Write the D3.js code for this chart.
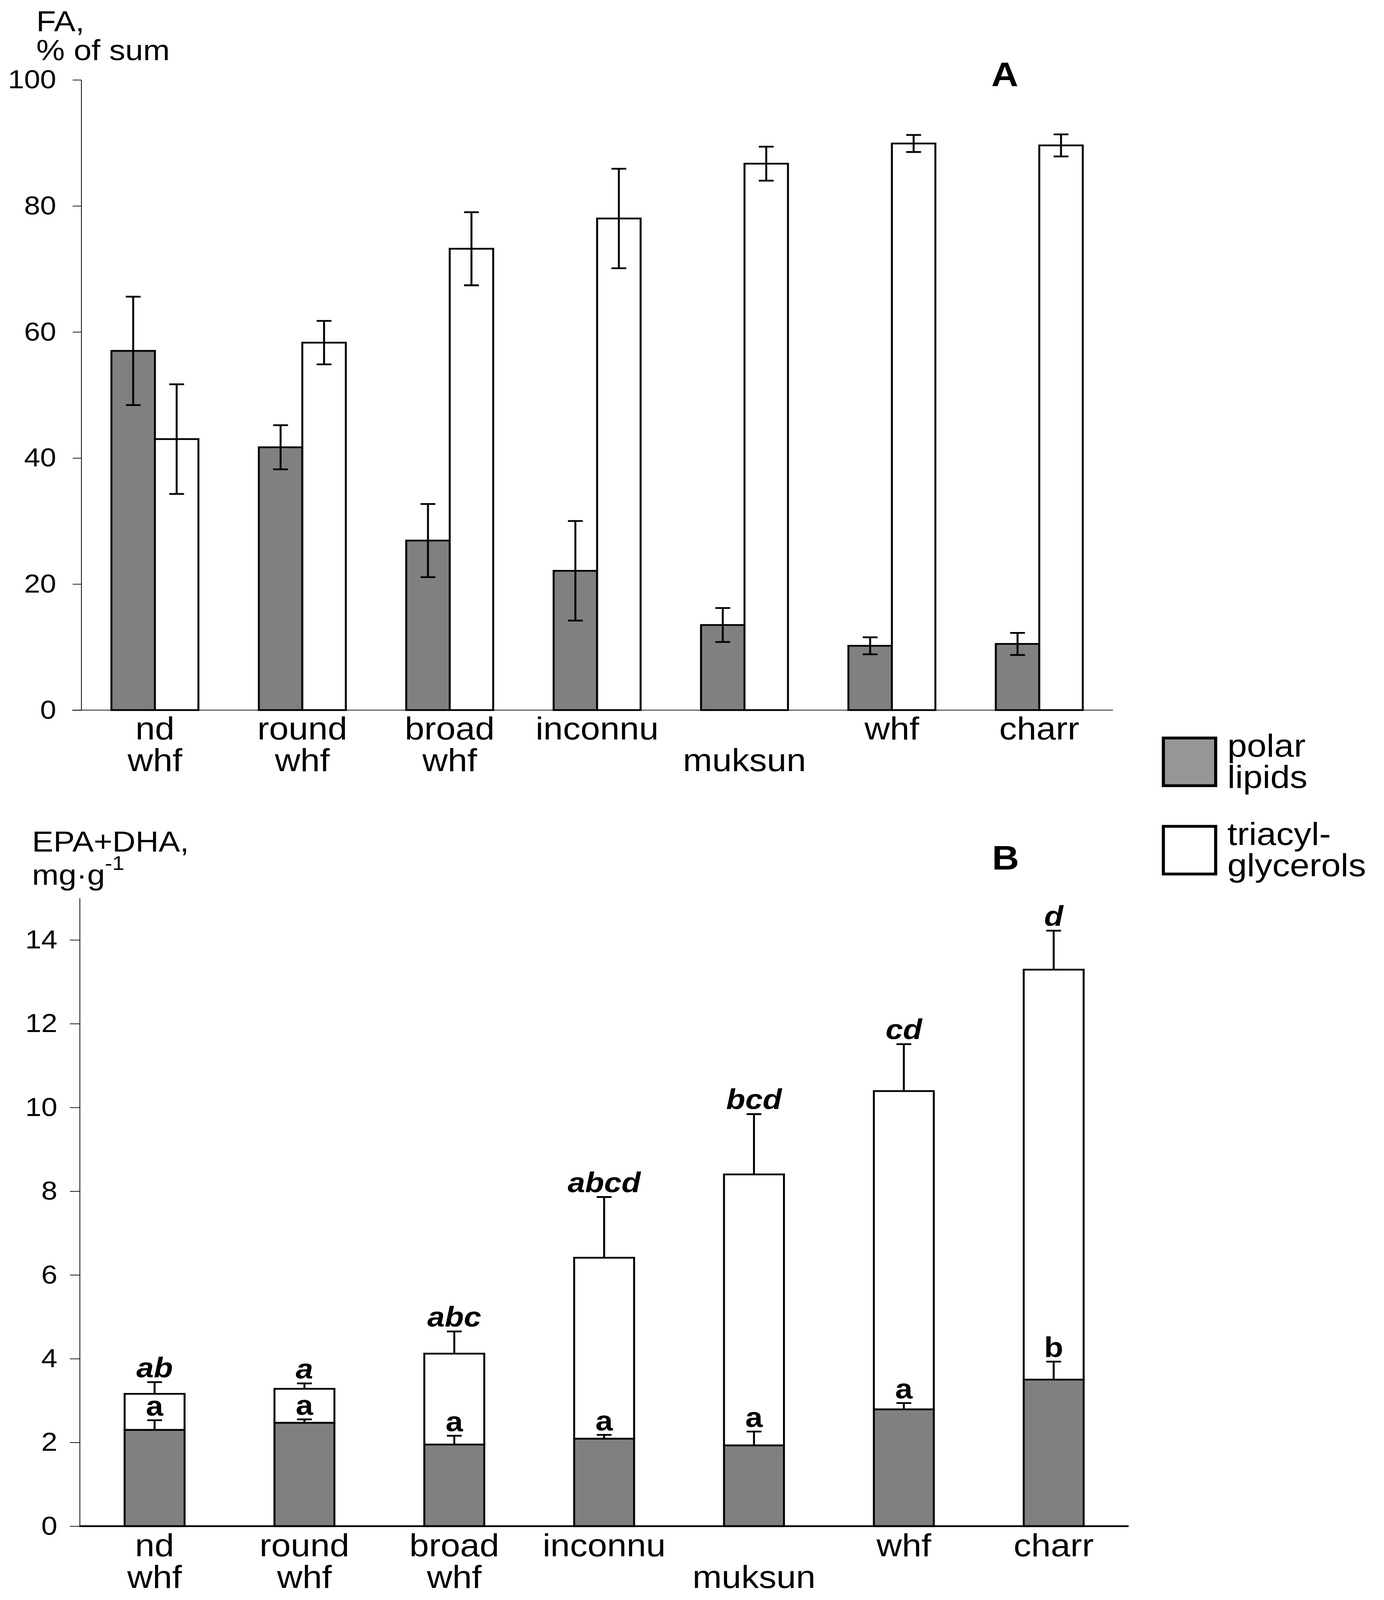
<!DOCTYPE html>
<html>
<head>
<meta charset="utf-8">
<script src="https://cdn.jsdelivr.net/npm/d3@7"></script>
<style>
  html, body { margin: 0; padding: 0; background: #fff; overflow: hidden; }
  svg { display: block; }
  text { font-family: "Liberation Sans", Arial, sans-serif; fill: #000; }
</style>
</head>
<body>
<div class="chart"></div>
<script>
// categories (two label lines each)
var categories = ["nd whf", "round whf", "broad whf", "inconnu", "muksun", "whf", "charr"];
var labelLines = [["nd", "whf"], ["round", "whf"], ["broad", "whf"], ["inconnu", ""], ["", "muksun"], ["whf", ""], ["charr", ""]];

// panel A: FA, % of sum
var polarPct    = [57.0, 41.7, 26.9, 22.1, 13.5, 10.2, 10.5];
var polarPctErr = [8.6, 3.5, 5.8, 7.9, 2.7, 1.35, 1.75];
var tagPct      = [43.0, 58.3, 73.2, 78.0, 86.7, 89.9, 89.6];
var tagPctErr   = [8.7, 3.45, 5.8, 7.9, 2.7, 1.35, 1.75];
var ticksA = [0, 20, 40, 60, 80, 100];

// panel B: EPA+DHA, mg/g (stacked)
var polarMg    = [2.30, 2.47, 1.95, 2.09, 1.93, 2.79, 3.50];
var polarMgErr = [0.23, 0.08, 0.21, 0.09, 0.33, 0.15, 0.43];
var tagMg      = [0.86, 0.81, 2.17, 4.32, 6.47, 7.60, 9.79];
var totalMgErr = [0.28, 0.13, 0.53, 1.45, 1.44, 1.12, 0.93];
var ticksB = [0, 2, 4, 6, 8, 10, 12, 14];
var lettersTotal = ["ab", "a", "abc", "abcd", "bcd", "cd", "d"];
var lettersPolar = ["a", "a", "a", "a", "a", "a", "b"];

var legendItems = [["polar", "lipids"], ["triacyl-", "glycerols"]];

// the window is only 4096 px high, so the 3544x4529 drawing is fitted into it
var svg = d3.select(".chart").append("svg")
            .attr("width", window.innerWidth || 3544)
            .attr("height", window.innerHeight || 4096)
            .attr("viewBox", "0 0 3544 4529")
            .attr("preserveAspectRatio", "none");

var dark = "#808080";

function errBar(g, x, y1, y2, both) {
  g.append("line").attr("x1", x).attr("x2", x).attr("y1", y1).attr("y2", y2)
   .attr("stroke", "#000").attr("stroke-width", 5);
  g.append("line").attr("x1", x - 19).attr("x2", x + 19).attr("y1", y2).attr("y2", y2)
   .attr("stroke", "#000").attr("stroke-width", 5);
  if (both) {
    g.append("line").attr("x1", x - 19).attr("x2", x + 19).attr("y1", y1).attr("y2", y1)
     .attr("stroke", "#000").attr("stroke-width", 5);
  }
}

// one text element per category, lines as tspans
function catLabels(x, base) {
  var g = svg.append("g");
  labelLines.forEach(function(lines, i){
    var cx = x(categories[i]) + x.bandwidth() / 2;
    var t = g.append("text").attr("text-anchor", "middle").attr("font-size", 90);
    lines.forEach(function(s, k){
      if (!s) return;
      t.append("tspan").attr("x", cx).attr("y", base + k * 90).text(s);
    });
  });
}

// ---------- panel A ----------
var xA = d3.scaleBand().domain(categories).range([208, 2850]);
var yA = d3.scaleLinear().domain([0, 100]).range([2010, 226]);
var bwA = xA.bandwidth() * 0.295;

svg.append("g")
   .attr("transform", "translate(208,0)")
   .call(d3.axisLeft(yA).tickValues(ticksA).tickSize(22).tickSizeOuter(0).tickPadding(42))
   .call(function(g){
     g.selectAll("path, line").attr("stroke", "#000").attr("stroke-width", 2);
     g.selectAll("text").attr("font-size", 74).attr("font-family", "Liberation Sans, Arial");
   });

var barsA = svg.append("g");
barsA.selectAll(".polar").data(polarPct).enter().append("rect")
     .attr("x", function(d, i){ return xA(categories[i]) + xA.bandwidth() / 2 - bwA; })
     .attr("y", function(d){ return yA(d); })
     .attr("width", bwA)
     .attr("height", function(d){ return yA(0) - yA(d); })
     .attr("fill", dark).attr("stroke", "#000").attr("stroke-width", 5);
barsA.selectAll(".tag").data(tagPct).enter().append("rect")
     .attr("x", function(d, i){ return xA(categories[i]) + xA.bandwidth() / 2; })
     .attr("y", function(d){ return yA(d); })
     .attr("width", bwA)
     .attr("height", function(d){ return yA(0) - yA(d); })
     .attr("fill", "#fff").attr("stroke", "#000").attr("stroke-width", 5);

svg.append("line").attr("x1", 185).attr("x2", 2850).attr("y1", yA(0)).attr("y2", yA(0))
   .attr("stroke", "#000").attr("stroke-width", 2);

polarPct.forEach(function(d, i){
  var cx = xA(categories[i]) + xA.bandwidth() / 2 - bwA / 2;
  errBar(barsA, cx, yA(d - polarPctErr[i]), yA(d + polarPctErr[i]), true);
});
tagPct.forEach(function(d, i){
  var cx = xA(categories[i]) + xA.bandwidth() / 2 + bwA / 2;
  errBar(barsA, cx, yA(d - tagPctErr[i]), yA(d + tagPctErr[i]), true);
});

catLabels(xA, 2093);

var titleA = svg.append("text").attr("font-size", 82);
titleA.append("tspan").attr("x", 93).attr("y", 88).text("FA,");
titleA.append("tspan").attr("x", 93).attr("y", 170).text("% of sum");
svg.append("text").attr("x", 2573).attr("y", 243).attr("text-anchor", "middle")
   .attr("font-size", 96).attr("font-weight", "bold").text("A");

// ---------- panel B ----------
var xB = d3.scaleBand().domain(categories).range([204, 2890]);
var yB = d3.scaleLinear().domain([0, 15]).range([4320, 2542]);
var bwB = xB.bandwidth() * 0.4;

svg.append("g")
   .attr("transform", "translate(204,0)")
   .call(d3.axisLeft(yB).tickValues(ticksB).tickSize(25).tickSizeOuter(0).tickPadding(32))
   .call(function(g){
     g.selectAll("path, line").attr("stroke", "#000").attr("stroke-width", 2);
     g.selectAll("text").attr("font-size", 74).attr("font-family", "Liberation Sans, Arial");
   });

var rows = categories.map(function(c, i){ return {cat: c, polar: polarMg[i], tag: tagMg[i]}; });
var stacked = d3.stack().keys(["polar", "tag"])(rows);

var barsB = svg.append("g");
barsB.selectAll("g").data(stacked).enter().append("g")
     .attr("fill", function(s){ return s.key === "polar" ? dark : "#fff"; })
     .selectAll("rect").data(function(s){ return s; }).enter().append("rect")
     .attr("x", function(d){ return xB(d.data.cat) + (xB.bandwidth() - bwB) / 2; })
     .attr("y", function(d){ return yB(d[1]); })
     .attr("width", bwB)
     .attr("height", function(d){ return yB(d[0]) - yB(d[1]); })
     .attr("stroke", "#000").attr("stroke-width", 5);

svg.append("line").attr("x1", 204).attr("x2", 2890).attr("y1", yB(0)).attr("y2", yB(0))
   .attr("stroke", "#000").attr("stroke-width", 5);

rows.forEach(function(r, i){
  var cx = xB(r.cat) + xB.bandwidth() / 2;
  var pTop = yB(r.polar + polarMgErr[i]);
  var tTop = yB(r.polar + r.tag + totalMgErr[i]);
  errBar(barsB, cx, yB(r.polar), pTop, false);
  errBar(barsB, cx, yB(r.polar + r.tag), tTop, false);
  barsB.append("text").attr("x", cx).attr("y", pTop - 13)
       .attr("text-anchor", "middle").attr("font-size", 80).attr("font-weight", "bold")
       .text(lettersPolar[i]);
  barsB.append("text").attr("x", cx).attr("y", tTop - 14)
       .attr("text-anchor", "middle").attr("font-size", 80).attr("font-weight", "bold")
       .attr("font-style", "italic")
       .text(lettersTotal[i]);
});

catLabels(xB, 4405);

var titleB = svg.append("text").attr("font-size", 82);
titleB.append("tspan").attr("x", 82).attr("y", 2410).text("EPA+DHA,");
titleB.append("tspan").attr("x", 82).attr("y", 2504).text("mg·g");
titleB.append("tspan").attr("dy", -42).attr("font-size", 56).text("-1");
svg.append("text").attr("x", 2575).attr("y", 2461).attr("text-anchor", "middle")
   .attr("font-size", 96).attr("font-weight", "bold").text("B");

// ---------- legend ----------
var leg = svg.append("g");
legendItems.forEach(function(lines, i){
  var top = 2089 + i * 250;
  leg.append("rect").attr("x", 2979).attr("y", top).attr("width", 134).attr("height", 135)
     .attr("fill", i === 0 ? "#969696" : "#fff").attr("stroke", "#000").attr("stroke-width", 8);
  var t = leg.append("text").attr("font-size", 90);
  lines.forEach(function(s, k){
    t.append("tspan").attr("x", 3143).attr("y", top + 53 + k * 88).text(s);
  });
});
</script>
</body>
</html>
